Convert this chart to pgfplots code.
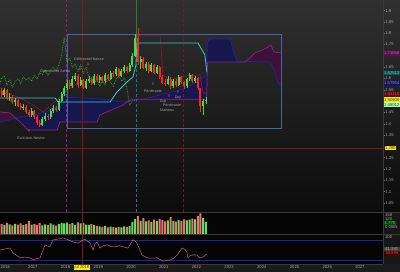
\documentclass[border=0pt]{standalone}
\usepackage{fontspec}
\setmainfont{Liberation Sans}
\newfontfamily\dv{DejaVu Sans}
\usepackage{pgfplots}
\usepackage{pgfplotstable}
\pgfplotsset{compat=1.18}
\newcommand\tf{\fontsize{4.2}{4.2}\selectfont}
\newcommand\af{\fontsize{3.7}{3.7}\selectfont}
\definecolor{bgdark}{HTML}{1B1B1B}
\definecolor{bgtop}{HTML}{303030}
\definecolor{bgbot}{HTML}{0C0C0C}
\definecolor{panelbg}{HTML}{050505}
\definecolor{rightbg}{HTML}{171717}
\definecolor{sep}{HTML}{3A3A3A}
\definecolor{labgray}{HTML}{A8A8A8}
\definecolor{tickgray}{HTML}{707070}
\definecolor{cgreen}{HTML}{3AE63A}
\definecolor{cred}{HTML}{FF2424}
\definecolor{vgreen}{HTML}{62DC62}
\definecolor{vred}{HTML}{EE7272}
\definecolor{kijun}{HTML}{3CC8D0}
\definecolor{tenkan}{HTML}{9A1530}
\definecolor{chikou}{HTML}{3AAE3A}
\definecolor{ssa}{HTML}{2323A0}
\definecolor{ssb}{HTML}{8E208E}
\definecolor{cloudblue}{HTML}{17174E}
\definecolor{cloudmag}{HTML}{3E1236}
\definecolor{rect}{HTML}{4A64A8}
\definecolor{cross}{HTML}{7A1A1A}
\definecolor{vmag}{HTML}{8E1C8E}
\definecolor{vteal}{HTML}{1A7A7A}
\definecolor{vgreenline}{HTML}{2E7A2E}
\definecolor{vdred}{HTML}{6E1A2A}
\definecolor{annot}{HTML}{A0A0A0}
\definecolor{oscblue}{HTML}{2222A8}
\definecolor{oscline}{HTML}{B0607A}

\pgfplotstableread{
x c
2016.042 1.527
2016.125 1.548
2016.208 1.512
2016.292 1.520
2016.375 1.495
2016.458 1.503
2016.542 1.480
2016.625 1.470
2016.708 1.476
2016.792 1.452
2016.875 1.440
2016.958 1.455
2017.042 1.430
2017.125 1.405
2017.208 1.395
2017.292 1.420
2017.375 1.435
2017.458 1.428
2017.542 1.455
2017.625 1.470
2017.708 1.462
2017.792 1.500
2017.875 1.530
2017.958 1.556
2018.042 1.580
2018.125 1.565
2018.208 1.600
2018.292 1.612
2018.375 1.572
2018.458 1.595
2018.542 1.560
2018.625 1.588
2018.708 1.600
2018.792 1.578
2018.875 1.610
2018.958 1.592
2019.042 1.605
2019.125 1.588
2019.208 1.615
2019.292 1.598
2019.375 1.625
2019.458 1.618
2019.542 1.640
2019.625 1.612
2019.708 1.633
2019.792 1.650
2019.875 1.632
2019.958 1.660
2020.042 1.700
2020.125 1.780
2020.208 1.672
2020.292 1.688
2020.375 1.648
2020.458 1.665
2020.542 1.632
2020.625 1.660
2020.708 1.625
2020.792 1.650
2020.875 1.608
2020.958 1.582
2021.042 1.575
2021.125 1.598
2021.208 1.565
2021.292 1.590
2021.375 1.572
2021.458 1.606
2021.542 1.584
2021.625 1.565
2021.708 1.596
2021.792 1.615
2021.875 1.588
2021.958 1.602
2022.042 1.556
2022.125 1.480
2022.208 1.500
2022.292 1.506
}\closes

\pgfplotstableread{
x o h l c v
2016.125 1.527 1.560 1.520 1.548 70
2016.292 1.512 1.535 1.500 1.520 74
2016.458 1.495 1.515 1.478 1.503 78
2016.708 1.470 1.488 1.460 1.476 68
2016.958 1.440 1.468 1.432 1.455 72
2017.292 1.395 1.428 1.390 1.420 66
2017.375 1.420 1.448 1.412 1.435 74
2017.542 1.428 1.465 1.420 1.455 80
2017.625 1.455 1.482 1.448 1.470 72
2017.792 1.462 1.510 1.458 1.500 76
2017.875 1.500 1.540 1.495 1.530 84
2017.958 1.530 1.565 1.522 1.556 80
2018.042 1.556 1.595 1.548 1.580 86
2018.208 1.565 1.612 1.560 1.600 82
2018.292 1.600 1.625 1.590 1.612 70
2018.458 1.572 1.605 1.565 1.595 80
2018.625 1.560 1.598 1.555 1.588 72
2018.708 1.588 1.612 1.580 1.600 68
2018.875 1.578 1.620 1.572 1.610 70
2019.042 1.592 1.615 1.580 1.605 58
2019.208 1.588 1.625 1.582 1.615 60
2019.375 1.598 1.635 1.592 1.625 56
2019.542 1.618 1.652 1.612 1.640 48
2019.708 1.612 1.642 1.606 1.633 50
2019.792 1.633 1.660 1.626 1.650 58
2019.958 1.632 1.668 1.628 1.660 60
2020.042 1.660 1.712 1.652 1.700 92
2020.125 1.700 1.795 1.695 1.780 114
2020.292 1.672 1.700 1.640 1.688 100
2020.458 1.648 1.675 1.635 1.665 96
2020.625 1.632 1.668 1.628 1.660 92
2020.792 1.625 1.658 1.620 1.650 98
2021.125 1.575 1.610 1.570 1.598 104
2021.292 1.565 1.600 1.560 1.590 100
2021.458 1.572 1.615 1.566 1.606 108
2021.708 1.565 1.604 1.560 1.596 104
2021.792 1.596 1.625 1.590 1.615 110
2021.958 1.588 1.612 1.582 1.602 112
2022.208 1.480 1.508 1.440 1.500 122
2022.292 1.500 1.520 1.488 1.506 91
}\up

\pgfplotstableread{
x o h l c v
2016.042 1.545 1.556 1.518 1.527 76
2016.208 1.548 1.552 1.505 1.512 82
2016.375 1.520 1.528 1.488 1.495 66
2016.542 1.503 1.510 1.472 1.480 72
2016.625 1.480 1.492 1.462 1.470 80
2016.792 1.476 1.482 1.445 1.452 76
2016.875 1.452 1.462 1.430 1.440 100
2017.042 1.455 1.460 1.422 1.430 78
2017.125 1.430 1.438 1.395 1.405 70
2017.208 1.405 1.415 1.384 1.395 82
2017.458 1.435 1.442 1.418 1.428 68
2017.708 1.470 1.478 1.452 1.462 64
2018.125 1.580 1.592 1.555 1.565 76
2018.375 1.612 1.618 1.560 1.572 88
2018.542 1.595 1.600 1.552 1.560 84
2018.792 1.600 1.608 1.570 1.578 76
2018.958 1.610 1.618 1.585 1.592 62
2019.125 1.605 1.610 1.578 1.588 54
2019.292 1.615 1.620 1.590 1.598 50
2019.458 1.625 1.632 1.608 1.618 52
2019.625 1.640 1.648 1.605 1.612 55
2019.875 1.650 1.656 1.625 1.632 52
2020.208 1.780 1.823 1.660 1.672 137
2020.375 1.688 1.695 1.640 1.648 120
2020.542 1.665 1.672 1.625 1.632 104
2020.708 1.660 1.665 1.618 1.625 110
2020.875 1.650 1.655 1.600 1.608 115
2020.958 1.608 1.615 1.575 1.582 106
2021.042 1.582 1.600 1.565 1.575 96
2021.208 1.598 1.605 1.555 1.565 129
2021.375 1.590 1.596 1.562 1.572 94
2021.542 1.606 1.612 1.575 1.584 98
2021.625 1.584 1.590 1.552 1.565 112
2021.875 1.615 1.620 1.578 1.588 118
2022.042 1.602 1.608 1.548 1.556 137
2022.125 1.556 1.560 1.452 1.480 158
}\dn

\pgfplotstableread{
x y
2015.994 1.514
2017.68 1.514
2017.77 1.496
2019.36 1.496
2019.57 1.540
2019.88 1.585
2020.06 1.607
2020.15 1.660
2020.18 1.757
2022.05 1.757
2022.26 1.704
2022.32 1.628
}\kijun

\pgfplotstableread{
x y
2015.994 1.536
2016.30 1.532
2016.61 1.514
2017.00 1.483
2017.31 1.452
2017.74 1.505
2018.04 1.549
2018.44 1.585
2018.90 1.593
2019.36 1.602
2019.97 1.646
2020.15 1.726
2020.21 1.792
2020.89 1.792
2020.98 1.616
2021.19 1.593
2021.65 1.611
2022.11 1.616
2022.20 1.540
2022.29 1.531
}\tenkan

\pgfplotstableread{
x y
2015.994 1.408
2016.30 1.417
2016.61 1.430
2017.00 1.439
2017.43 1.452
2017.74 1.483
2017.92 1.518
2019.05 1.510
2019.76 1.496
2020.28 1.505
2020.89 1.527
2021.40 1.545
2021.71 1.562
2022.11 1.590
2022.30 1.616
2022.34 1.761
2022.42 1.775
2023.03 1.775
2023.12 1.726
2023.24 1.677
2024.25 1.673
2024.34 1.651
2024.50 1.580
2024.59 1.571
}\ssa

\pgfplotstableread{
x y
2015.994 1.452
2016.30 1.448
2016.61 1.408
2016.85 1.372
2017.74 1.372
2017.83 1.408
2018.96 1.408
2019.05 1.439
2019.76 1.483
2019.91 1.500
2020.06 1.508
2022.31 1.508
2022.34 1.673
2023.49 1.673
2023.64 1.691
2023.79 1.713
2024.01 1.726
2024.19 1.739
2024.28 1.748
2024.37 1.717
2024.59 1.713
}\ssb

\pgfplotstableread{
x y
2015.994 48
2016.15 52
2016.30 55
2016.39 38
2016.50 30
2016.61 21
2016.75 24
2016.91 21
2017.00 14
2017.10 18
2017.22 21
2017.37 66
2017.45 62
2017.52 59
2017.61 83
2017.77 86
2017.92 90
2018.07 84
2018.23 76
2018.38 72
2018.50 80
2018.59 86
2018.68 78
2018.75 72
2018.84 48
2018.90 70
2018.96 76
2019.05 55
2019.14 62
2019.27 66
2019.39 60
2019.51 59
2019.63 63
2019.76 59
2019.91 55
2020.06 83
2020.12 80
2020.18 72
2020.34 31
2020.49 21
2020.64 20
2020.80 21
2020.98 10
2021.10 12
2021.19 14
2021.31 20
2021.41 31
2021.56 55
2021.65 50
2021.71 41
2021.74 21
2021.80 28
2021.87 31
2022.02 31
2022.11 21
2022.20 24
2022.32 34
}\osc

\begin{document}
\begin{tikzpicture}
\useasboundingbox (0,0) rectangle (400bp,272bp);
\fill[bgdark] (0,0) rectangle (400bp,272bp);
\shade[top color=bgtop, bottom color=bgbot] (0,60bp) rectangle (400bp,272bp);
\fill[panelbg] (0,8bp) rectangle (383bp,59.5bp);
\fill[rightbg] (383bp,8bp) rectangle (400bp,59.5bp);

\begin{axis}[
  at={(0bp,272bp)}, anchor=north west, scale only axis,
  width=383bp, height=212bp,
  xmin=2015.994, xmax=2027.706, ymin=1.010, ymax=1.947,
  axis line style={draw=none}, xtick=\empty,
  ytick={1.05,1.1,1.15,1.2,1.25,1.35,1.4,1.45,1.55,1.6,1.65,1.75,1.8,1.85,1.9},
  ytick pos=right, yticklabel pos=right, tick align=outside,
  major tick length=1.5bp,
  ytick style={draw=tickgray, line width=0.4bp},
  yticklabel style={font=\tf, text=labgray, anchor=west, inner sep=0.8bp},
  /pgf/number format/assume math mode=true,
  clip=true,
]
% cloud areas
\addplot[fill=cloudmag, draw=none] coordinates {(2015.994,1.452) (2016.30,1.448) (2016.48,1.425) (2016.30,1.417) (2015.994,1.408)} -- cycle;
\addplot[fill=cloudblue, draw=none] coordinates {(2016.48,1.425) (2016.61,1.430) (2017.00,1.439) (2017.43,1.452) (2017.74,1.483) (2017.92,1.518) (2019.05,1.510) (2019.76,1.496) (2020.28,1.505) (2020.89,1.527) (2021.40,1.545) (2021.71,1.562) (2022.11,1.590) (2022.30,1.616) (2022.34,1.761) (2022.42,1.775) (2023.03,1.775) (2023.12,1.726) (2023.24,1.677) (2023.24,1.673) (2022.34,1.673) (2022.31,1.508) (2020.06,1.508) (2019.91,1.500) (2019.76,1.483) (2019.05,1.439) (2018.96,1.408) (2017.83,1.408) (2017.74,1.372) (2016.85,1.372) (2016.61,1.408)} -- cycle;
\addplot[fill=cloudmag, draw=none] coordinates {(2023.24,1.673) (2023.49,1.673) (2023.64,1.691) (2023.79,1.713) (2024.01,1.726) (2024.19,1.739) (2024.28,1.748) (2024.37,1.717) (2024.59,1.713) (2024.59,1.571) (2024.50,1.580) (2024.34,1.651) (2024.25,1.673)} -- cycle;
\addplot[ssa, line width=0.7bp] table[x=x,y=y] {\ssa};
\addplot[ssb, line width=0.7bp] table[x=x,y=y] {\ssb};
% event lines
\addplot[vmag, line width=0.7bp, dash pattern=on 3bp off 2bp] coordinates {(2018.028,1.010) (2018.028,1.947)};
\addplot[cross, line width=0.6bp] coordinates {(2018.50,1.010) (2018.50,1.947)};
\addplot[vgreenline, line width=0.8bp] coordinates {(2020.18,1.70) (2020.18,1.947)};
\addplot[vteal, line width=0.8bp, dash pattern=on 3bp off 2bp] coordinates {(2020.18,1.010) (2020.18,1.70)};
\addplot[vdred, line width=0.7bp, dash pattern=on 3bp off 2bp] coordinates {(2021.59,1.010) (2021.59,1.947)};
\addplot[cross, line width=0.6bp] coordinates {(2015.994,1.293) (2027.706,1.293)};
% rectangle
\addplot[rect, line width=0.7bp] coordinates {(2018.043,1.381) (2024.587,1.381) (2024.587,1.797) (2018.043,1.797) (2018.043,1.381)};
% lines
\addplot[chikou, line width=0.7bp, densely dotted] table[x expr=\thisrow{x}-2.1667, y=c] {\closes};
\addplot[tenkan, line width=0.6bp] table[x=x,y=y] {\tenkan};
\addplot[kijun, line width=0.8bp] table[x=x,y=y] {\kijun};
% candles: wicks (low to high)
\addplot[cgreen, line width=0.5bp, quiver={u=0, v=\thisrow{h}-\thisrow{l}}] table[x=x, y=l] {\up};
\addplot[cred, line width=0.5bp, quiver={u=0, v=\thisrow{h}-\thisrow{l}}] table[x=x, y=l] {\dn};
% candles: bodies (open to close)
\addplot[cgreen, line width=2bp, quiver={u=0, v=\thisrow{c}-\thisrow{o}}] table[x=x, y=o] {\up};
\addplot[cred, line width=2bp, quiver={u=0, v=\thisrow{o}-\thisrow{c}}] table[x=x, y=c] {\dn};
% annotations
\node[font=\af, text=annot] at (2016.942,1.337) {Evolution Neutre};
\node[font=\af\dv, text=annot!80!white] at (2016.881,1.366) {⇧};
\node[font=\af, text=annot] at (2017.676,1.633) {Opportunité Achat};
\node[font=\af, text=annot] at (2018.716,1.686) {Différentiel Baisse};
\node[font=\af\dv, text=annot!80!white] at (2018.685,1.664) {⇩};
\node[font=\af\dv, text=annot!80!white] at (2018.44,1.640) {⇩};
\node[font=\af\dv, text=annot!80!white] at (2020.673,1.574) {⇧};
\node[font=\af, text=annot] at (2020.673,1.545) {Pénétrante};
\node[font=\af, text=annot] at (2020.979,1.496) {Doji};
\node[font=\af, text=annot] at (2021.254,1.483) {Pénétrante};
\node[font=\af, text=annot] at (2021.101,1.461) {Marteau};
\node[font=\af, text=annot] at (2021.437,1.514) {Doji};
\node[font=\af\dv, text=annot!80!white] at (2021.437,1.538) {⇧};
\node[font=\af\dv, text=annot!80!white] at (2021.16,1.520) {⇧};
\end{axis}

% volume panel
\begin{axis}[
  at={(0bp,59bp)}, anchor=north west, scale only axis,
  width=383bp, height=21bp,
  xmin=2015.994, xmax=2027.706, ymin=0, ymax=160,
  axis lines=none, clip=true,
]
\addplot[ybar, bar width=2bp, bar shift=0pt, fill=vgreen, draw=none] table[x=x,y=v] {\up};
\addplot[ybar, bar width=2bp, bar shift=0pt, fill=vred, draw=none] table[x=x,y=v] {\dn};
\addplot[cross, line width=0.6bp] coordinates {(2018.50,0) (2018.50,160)};
\end{axis}

% oscillator panel
\begin{axis}[
  at={(0bp,37bp)}, anchor=north west, scale only axis,
  width=383bp, height=29bp,
  xmin=2015.994, xmax=2027.706, ymin=0, ymax=100,
  axis line style={draw=none}, ytick=\empty,
  xtick={2017,2018,2019,2020,2021,2022,2023,2024,2025,2026,2027},
  xtick pos=bottom, major tick length=0pt,
  xticklabel style={font=\tf, text=labgray, inner sep=0.6bp, yshift=-0.3bp},
  /pgf/number format/1000 sep={},
  /pgf/number format/assume math mode=true,
  clip=true,
]
\addplot[oscblue, line width=0.7bp] coordinates {(2015.994,83) (2027.706,83)};
\addplot[oscblue, line width=0.7bp] coordinates {(2015.994,14) (2027.706,14)};
\addplot[cross, line width=0.6bp] coordinates {(2018.50,0) (2018.50,100)};
\addplot[oscline, line width=0.55bp] table[x=x,y=y] {\osc};
\end{axis}
\node[anchor=west, font=\tf, text=labgray, inner sep=0.3bp] at (0.2bp,4.6bp) {2016};

% separators
\draw[sep, line width=0.8bp] (0,59.6bp) -- (400bp,59.6bp);
\draw[sep, line width=0.8bp] (0,37.5bp) -- (400bp,37.5bp);
\draw[sep, line width=0.6bp] (383.3bp,8bp) -- (383.3bp,272bp);
\draw[sep, line width=0.6bp] (0,8bp) -- (383.3bp,8bp);

% right-hand value labels (main panel)
\tikzset{rl/.style={anchor=west, inner sep=0.4bp, font=\tf, minimum height=4.6bp, minimum width=16bp}}
\node[rl, fill=vmag!60!black, text=magenta!70!white] at (383.6bp,218.5bp) {1.71038};
\node[rl, fill=vteal!70!black, text=kijun] at (383.6bp,199bp) {1.62512};
\node[rl, fill=ssa!60!black, text=blue!50!white] at (383.6bp,188.5bp) {1.57954};
\node[rl, fill=tenkan!60!black, text=red!80!white] at (383.6bp,178bp) {1.53110};
\node[rl, fill=yellow!90!orange, text=black!80] at (383.6bp,172.3bp) {1.50600};
\node[rl, fill=green!35!white, text=black!75] at (383.6bp,167.2bp) {1.48012};
\node[rl, fill=yellow!95!orange, text=black!80, minimum width=11bp] at (384.5bp,124bp) {1.290};
% volume labels
\node[anchor=west, inner sep=0.4bp, font=\tf, text=labgray] at (384.5bp,57bp) {158};
\node[anchor=west, inner sep=0.4bp, font=\tf, text=labgray] at (384.5bp,53bp) {120};
\node[rl, fill=green!30!black, text=vgreen, minimum width=12bp] at (384bp,49bp) {1.77K};
\node[anchor=west, inner sep=0.4bp, font=\tf, text=labgray] at (384.5bp,45bp) {0.000k};
% oscillator labels
\node[anchor=west, inner sep=0.4bp, font=\tf, text=labgray] at (384.5bp,34.5bp) {100};
\node[rl, fill=black!75, text=labgray] at (383.6bp,22.5bp) {41.381};
\node[rl, fill=red!25!black, text=red!75!white] at (383.6bp,18.5bp) {39.999};
% crosshair date label
\node[fill=yellow!95!orange, text=black!80, font=\tf, inner sep=0.6bp] at (82bp,4.6bp) {jul 2018};
\end{tikzpicture}
\end{document}
